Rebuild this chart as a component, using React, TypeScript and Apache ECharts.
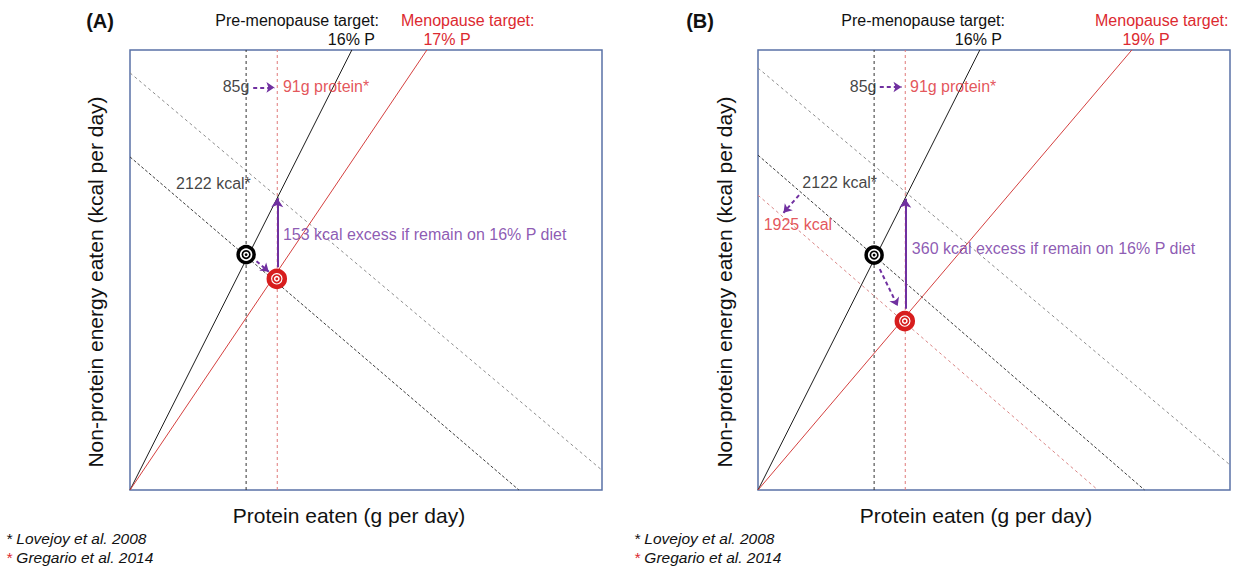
import React, { useEffect, useRef } from "react";
import * as echarts from "echarts";

// Schematic units: both axes run 0–100 (no ticks in the original figure).

// ---- Panel A ----
const aPreTargetLine = [[0, 0], [47.0, 100]];
const aMenoTargetLine = [[0, 0], [62.9, 100]];
const aPreProteinLine = [[24.6, 0], [24.6, 100]];
const aMenoProteinLine = [[31.2, 0], [31.2, 100]];
const aIsoExcessLine = [[0, 94.8], [100, 4.5]];
const aIsoPreLine = [[0, 75.7], [82.4, 0]];
const aIsoMenoLine: number[][] = [];
const aPreIntake = [24.6, 53.5];
const aMenoIntake = [31.1, 48.0];
const aSolidArrows = [[[31.2, 50.6], [31.2, 66.3]]];
const aDashedArrows = [
  [[26.1, 91.5], [30.6, 91.5]],
  [[26.8, 52.0], [29.4, 49.6]],
];
const aLabelTexts = ["85g", "91g protein*", "2122 kcal*", "153 kcal excess if remain on 16% P diet"];
const aLabelAnchors = [[25.3, 91.6], [32.4, 91.6], [25.6, 69.6], [32.4, 58.0]];
const aLabelKinds = ["black-right", "red-left", "black-right", "purple-left"];
const aTitle = "(A)";
const aPreTitle = ["Pre-menopause target:", "16% P"];
const aMenoTitle = ["Menopause target:", "17% P"];

// ---- Panel B ----
const bPreTargetLine = [[0, 0], [47.0, 100]];
const bMenoTargetLine = [[0, 0], [79.2, 100]];
const bPreProteinLine = [[24.6, 0], [24.6, 100]];
const bMenoProteinLine = [[31.2, 0], [31.2, 100]];
const bIsoExcessLine = [[0, 95.9], [100, 5.7]];
const bIsoPreLine = [[0, 76.1], [81.9, 0]];
const bIsoMenoLine = [[0, 67.0], [72.0, 0]];
const bPreIntake = [24.6, 53.4];
const bMenoIntake = [31.1, 38.4];
const bSolidArrows = [[[31.2, 41.2], [31.2, 66.2]]];
const bDashedArrows = [
  [[25.8, 91.6], [30.4, 91.6]],
  [[25.8, 50.2], [29.6, 41.8]],
  [[8.7, 67.0], [5.4, 63.0]],
];
const bLabelTexts = ["85g", "91g protein*", "2122 kcal*", "1925 kcal", "360 kcal excess if remain on 16% P diet"];
const bLabelAnchors = [[25.1, 91.6], [32.2, 91.6], [9.4, 69.8], [1.2, 60.4], [32.6, 54.8]];
const bLabelKinds = ["black-right", "red-left", "black-left", "red-left", "purple-left"];
const bTitle = "(B)";
const bPreTitle = ["Pre-menopause target:", "16% P"];
const bMenoTitle = ["Menopause target:", "19% P"];

const xAxisName = "Protein eaten (g per day)";
const yAxisName = "Non-protein energy eaten (kcal per day)";
const footnotes = ["Lovejoy et al. 2008", "Gregario et al. 2014"];

const FONT = "'Liberation Sans', Arial, Helvetica, sans-serif";
const RED_TEXT = "#dc2a30";
const RED_LINE = "#d4403f";
const PURPLE = "#7030a0";
const BLACK = "#111111";
const BORDER = "#5a71a6";

type Pt = number[];

function panelSeries(
  idx: number,
  d: {
    pre: Pt[]; meno: Pt[]; preV: Pt[]; menoV: Pt[];
    isoEx: Pt[]; isoPre: Pt[]; isoMeno: Pt[];
    preT: Pt; menoT: Pt;
    solid: Pt[][]; dashed: Pt[][];
    texts: string[]; anchors: Pt[]; kinds: string[];
  }
) {
  const common = { xAxisIndex: idx, yAxisIndex: idx };
  const line = (data: Pt[], color: string, type: any, width: number, z: number) => ({
    type: "line",
    ...common,
    data,
    showSymbol: false,
    symbol: "none",
    silent: true,
    lineStyle: { color, type, width },
    z,
  });
  const target = (pt: Pt, color: string, size: number, outerW: number) => [
    { type: "scatter", ...common, data: [pt], symbolSize: size, silent: true,
      itemStyle: { color: "#ffffff", borderColor: color, borderWidth: outerW, opacity: 1 }, z: 10 },
    { type: "scatter", ...common, data: [pt], symbolSize: 7.5, silent: true,
      itemStyle: { color: "#ffffff", borderColor: color, borderWidth: 1.7, opacity: 1 }, z: 11 },
    { type: "scatter", ...common, data: [pt], symbolSize: 2.8, silent: true,
      itemStyle: { color, opacity: 1 }, z: 12 },
  ];
  const series: any[] = [
    line(d.isoEx, "#8c8c8c", [3, 3], 1, 2),
    line(d.isoPre, "#3c3c3c", [3, 2], 1, 2),
    line(d.preV, "#333333", [3, 3], 1, 2),
    line(d.menoV, "#e07a7a", [3, 3], 1, 2),
    line(d.pre, "#1c1c1c", "solid", 1, 3),
    line(d.meno, RED_LINE, "solid", 1, 3),
  ];
  if (d.isoMeno.length) series.push(line(d.isoMeno, "#d98585", [3, 3], 1, 2));
  series.push({
    type: "lines",
    coordinateSystem: "cartesian2d",
    ...common,
    silent: true,
    data: d.solid.map((c) => ({ coords: c })),
    symbol: ["none", "arrow"],
    symbolSize: 9,
    lineStyle: { color: PURPLE, width: 2, type: "solid", opacity: 1 },
    z: 6,
  });
  series.push({
    type: "lines",
    coordinateSystem: "cartesian2d",
    ...common,
    silent: true,
    data: d.dashed.map((c) => ({ coords: c })),
    symbol: ["none", "arrow"],
    symbolSize: 8,
    lineStyle: { color: PURPLE, width: 2, type: [4, 3], opacity: 1 },
    z: 6,
  });
  series.push(...target(d.preT, "#000000", 16, 3.5));
  series.push(...target(d.menoT, "#d71d1d", 16, 4.5));
  series.push({
    type: "scatter",
    ...common,
    silent: true,
    symbolSize: 1,
    itemStyle: { color: "rgba(0,0,0,0)" },
    z: 8,
    data: d.texts.map((t, i) => {
      const [col, al] = d.kinds[i].split("-");
      const color = col === "red" ? RED_TEXT : col === "purple" ? PURPLE : BLACK;
      return {
        value: d.anchors[i],
        label: {
          show: true,
          formatter: t,
          position: "inside",
          align: al,
          verticalAlign: "middle",
          color,
          fontSize: 16,
          fontFamily: FONT,
          backgroundColor: "transparent",
        },
      };
    }),
  });
  return series;
}

function headerGraphics(
  title: string, pre: string[], meno: string[],
  titleX: number, preRight: number, pre2Right: number, menoLeft: number, meno2Center: number,
  yLabelX: number, xLabelX: number, footX: number
) {
  const base = { fontFamily: FONT, fontSize: 16 };
  return [
    { type: "text", x: titleX, y: 21, style: { ...base, text: title, fontSize: 20, fontWeight: "bold", fill: "#111", align: "center", verticalAlign: "middle" } },
    { type: "text", x: preRight, y: 20, style: { ...base, text: pre[0], fill: "#111", align: "right", verticalAlign: "middle" } },
    { type: "text", x: pre2Right, y: 39, style: { ...base, text: pre[1], fill: "#111", align: "right", verticalAlign: "middle" } },
    { type: "text", x: menoLeft, y: 20, style: { ...base, text: meno[0], fill: RED_TEXT, align: "left", verticalAlign: "middle" } },
    { type: "text", x: meno2Center, y: 39, style: { ...base, text: meno[1], fill: RED_TEXT, align: "center", verticalAlign: "middle" } },
    { type: "text", x: yLabelX, y: 282, rotation: Math.PI / 2, style: { ...base, text: yAxisName, fontSize: 21, fill: "#111", align: "center", verticalAlign: "middle" } },
    { type: "text", x: xLabelX, y: 515, style: { ...base, text: xAxisName, fontSize: 21, fill: "#111", align: "center", verticalAlign: "middle" } },
    { type: "text", x: footX, y: 538, style: { ...base, text: "* " + footnotes[0], fontSize: 15.5, fontStyle: "italic", fill: "#111", align: "left", verticalAlign: "middle" } },
    {
      type: "text", x: footX, y: 557,
      style: {
        ...base, text: "{r|*} " + footnotes[1], fontSize: 15.5, fontStyle: "italic", fill: "#111", align: "left", verticalAlign: "middle",
        rich: { r: { fill: RED_TEXT, fontSize: 15.5, fontStyle: "italic", fontFamily: FONT } },
      },
    },
  ];
}

export default function App() {
  const ref = useRef<HTMLDivElement>(null);
  useEffect(() => {
    document.body.style.margin = "0";
    if (!ref.current) return;
    const chart = echarts.init(ref.current, undefined, { renderer: "svg" });
    const axisBase = { type: "value", min: 0, max: 100, show: false };
    const option: any = {
      animation: false,
      backgroundColor: "#ffffff",
      grid: [
        { left: 130, top: 50, width: 472, height: 440, show: true, borderColor: BORDER, borderWidth: 1.5, backgroundColor: "transparent", containLabel: false },
        { left: 758, top: 50, width: 472, height: 440, show: true, borderColor: BORDER, borderWidth: 1.5, backgroundColor: "transparent", containLabel: false },
      ],
      xAxis: [{ ...axisBase, gridIndex: 0 }, { ...axisBase, gridIndex: 1 }],
      yAxis: [{ ...axisBase, gridIndex: 0 }, { ...axisBase, gridIndex: 1 }],
      series: [
        ...panelSeries(0, {
          pre: aPreTargetLine, meno: aMenoTargetLine, preV: aPreProteinLine, menoV: aMenoProteinLine,
          isoEx: aIsoExcessLine, isoPre: aIsoPreLine, isoMeno: aIsoMenoLine,
          preT: aPreIntake, menoT: aMenoIntake, solid: aSolidArrows, dashed: aDashedArrows,
          texts: aLabelTexts, anchors: aLabelAnchors, kinds: aLabelKinds,
        }),
        ...panelSeries(1, {
          pre: bPreTargetLine, meno: bMenoTargetLine, preV: bPreProteinLine, menoV: bMenoProteinLine,
          isoEx: bIsoExcessLine, isoPre: bIsoPreLine, isoMeno: bIsoMenoLine,
          preT: bPreIntake, menoT: bMenoIntake, solid: bSolidArrows, dashed: bDashedArrows,
          texts: bLabelTexts, anchors: bLabelAnchors, kinds: bLabelKinds,
        }),
      ],
      graphic: [
        ...headerGraphics(aTitle, aPreTitle, aMenoTitle, 100, 379, 375, 401, 447, 95, 349, 6),
        ...headerGraphics(bTitle, bPreTitle, bMenoTitle, 700, 1005, 1002, 1095, 1146, 724, 976, 634),
      ],
    };
    chart.setOption(option);
    return () => chart.dispose();
  }, []);
  return <div ref={ref} style={{ width: 1233, height: 566 }} />;
}
